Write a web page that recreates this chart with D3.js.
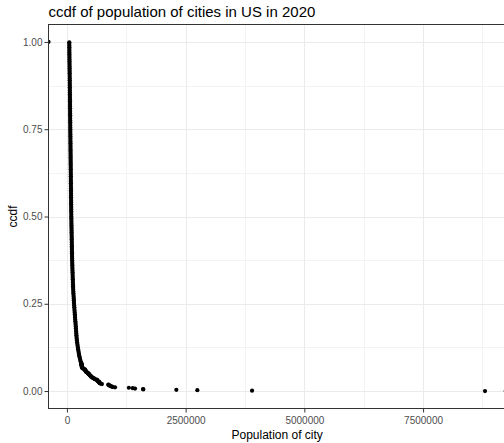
<!DOCTYPE html>
<html>
<head>
<meta charset="utf-8">
<script src="https://cdn.jsdelivr.net/npm/d3@7"></script>
<style>
  body { margin: 0; background: #ffffff; }
  svg { display: block; }
  text { font-family: "Liberation Sans", Arial, sans-serif; }
</style>
</head>
<body>
<svg id="chart" width="504" height="443"></svg>
<script>
// Largest cities (descending population) and their ccdf values
const topCityPopulation = [
  8804190, 3898747, 2746388, 2304580, 1608139, 1603797, 1434625, 1386932, 1304379, 1013240,
  961855, 949611, 918915, 905748, 887642, 874579, 873965, 737015, 715522, 689545,
  689447, 681054, 678815, 675647, 652503, 641903, 639111, 633104, 624444, 585708,
  577222, 564559, 542629, 542107, 524943, 508090, 504258, 498715, 486051, 478961,
  467665, 466742, 459470, 442241, 440646, 429954, 413066, 403455, 397532, 394266,
  386261, 384959, 383997, 372624, 350964, 346824, 322570, 320804, 317863, 317610,
  314998, 311549, 311527, 310227, 309317, 307670, 307573, 302971, 301578, 299035
];
const topCityCcdf = [
  0.0000, 0.0012, 0.0024, 0.0035, 0.0047, 0.0059, 0.0071, 0.0082, 0.0094, 0.0106,
  0.0118, 0.0129, 0.0141, 0.0153, 0.0165, 0.0176, 0.0188, 0.0200, 0.0212, 0.0224,
  0.0235, 0.0247, 0.0259, 0.0271, 0.0282, 0.0294, 0.0306, 0.0318, 0.0329, 0.0341,
  0.0353, 0.0365, 0.0376, 0.0388, 0.0400, 0.0412, 0.0424, 0.0435, 0.0447, 0.0459,
  0.0471, 0.0482, 0.0494, 0.0506, 0.0518, 0.0529, 0.0541, 0.0553, 0.0565, 0.0576,
  0.0588, 0.0600, 0.0612, 0.0624, 0.0635, 0.0647, 0.0659, 0.0671, 0.0682, 0.0694,
  0.0706, 0.0718, 0.0729, 0.0741, 0.0753, 0.0765, 0.0776, 0.0788, 0.0800, 0.0812
];

// Remaining cities down to the smallest, with their ccdf values
const smallerCityPopulation = [
  288000, 280000, 271000, 262000, 255000, 249000, 242000, 236000, 231000, 225000,
  220000, 215000, 210000, 206000, 203000, 200000, 198000, 195000, 192000, 189000,
  186000, 184000, 181000, 178000, 175000, 172000, 170000, 167000, 164000, 161000,
  158000, 156000, 153000, 150000, 148000, 146000, 144000, 142000, 139000, 137000,
  135000, 133000, 131000, 129000, 128000, 126000, 125000, 124000, 122000, 121000,
  120000, 119000, 117000, 116000, 115000, 114000, 113000, 112000, 111000, 110000,
  109000, 108000, 107000, 106000, 105300, 104600, 103900, 103200, 102500, 101800,
  101100, 100400, 99700, 99000, 98400, 97800, 97200, 96600, 96000, 95400,
  94800, 94200, 93600, 93000, 92500, 92000, 91500, 91000, 90500, 90000,
  89500, 89000, 88500, 88000, 87600, 87100, 86700, 86200, 85800, 85300,
  84900, 84400, 84000, 83500, 83100, 82700, 82300, 81900, 81500, 81100,
  80700, 80300, 79900, 79500, 79100, 78700, 78300, 77900, 77500, 77100,
  76700, 76300, 75900, 75500, 75100, 74700, 74300, 73900, 73500, 73100,
  72700, 72300, 71900, 71500, 71100, 70700, 70300, 69900, 69500, 69100,
  68700, 68300, 67900, 67500, 67100, 66600, 66200, 65700, 65300, 64800,
  64400, 63900, 63500, 63000, 62600, 62100, 61700, 61200, 60800, 60300,
  59900, 59400, 59000, 58500, 58100, 57600, 57200, 56700, 56300, 55800,
  55400, 54900, 54500, 54000, 53600, 53200, 52800, 52400, 52000, 51600,
  51200, 50800, 50400, 50000
];
const smallerCityCcdf = [
  0.085, 0.090, 0.095, 0.100, 0.105, 0.110, 0.115, 0.120, 0.125, 0.130,
  0.135, 0.140, 0.145, 0.150, 0.155, 0.160, 0.165, 0.170, 0.175, 0.180,
  0.185, 0.190, 0.195, 0.200, 0.205, 0.210, 0.215, 0.220, 0.225, 0.230,
  0.235, 0.240, 0.245, 0.250, 0.255, 0.260, 0.265, 0.270, 0.275, 0.280,
  0.285, 0.290, 0.295, 0.300, 0.305, 0.310, 0.315, 0.320, 0.325, 0.330,
  0.335, 0.340, 0.345, 0.350, 0.355, 0.360, 0.365, 0.370, 0.375, 0.380,
  0.385, 0.390, 0.395, 0.400, 0.405, 0.410, 0.415, 0.420, 0.425, 0.430,
  0.435, 0.440, 0.445, 0.450, 0.455, 0.460, 0.465, 0.470, 0.475, 0.480,
  0.485, 0.490, 0.495, 0.500, 0.505, 0.510, 0.515, 0.520, 0.525, 0.530,
  0.535, 0.540, 0.545, 0.550, 0.555, 0.560, 0.565, 0.570, 0.575, 0.580,
  0.585, 0.590, 0.595, 0.600, 0.605, 0.610, 0.615, 0.620, 0.625, 0.630,
  0.635, 0.640, 0.645, 0.650, 0.655, 0.660, 0.665, 0.670, 0.675, 0.680,
  0.685, 0.690, 0.695, 0.700, 0.705, 0.710, 0.715, 0.720, 0.725, 0.730,
  0.735, 0.740, 0.745, 0.750, 0.755, 0.760, 0.765, 0.770, 0.775, 0.780,
  0.785, 0.790, 0.795, 0.800, 0.805, 0.810, 0.815, 0.820, 0.825, 0.830,
  0.835, 0.840, 0.845, 0.850, 0.855, 0.860, 0.865, 0.870, 0.875, 0.880,
  0.885, 0.890, 0.895, 0.900, 0.905, 0.910, 0.915, 0.920, 0.925, 0.930,
  0.935, 0.940, 0.945, 0.950, 0.955, 0.960, 0.965, 0.970, 0.975, 0.980,
  0.985, 0.990, 0.995, 0.999
];

// Padding points of the step function at -Inf and +Inf
const padSide = ["-Inf", "+Inf"];
const padCcdf = [1, 0];

// Axis ticks
const xTicks = [0, 2500000, 5000000, 7500000];
const xMinorTicks = [1250000, 3750000, 6250000, 8750000];
const yTicks = [0, 0.25, 0.5, 0.75, 1];
const yMinorTicks = [0.125, 0.375, 0.625, 0.875];

const titleText = "ccdf of population of cities in US in 2020";
const xTitle = "Population of city";
const yTitle = "ccdf";

const svg = d3.select("#chart");
const panel = { left: 48.5, right: 505.8, top: 24.5, bottom: 408.5 };

const points = topCityPopulation.map((p, i) => ({ pop: p, ccdf: topCityCcdf[i] }))
  .concat(smallerCityPopulation.map((p, i) => ({ pop: p, ccdf: smallerCityCcdf[i] })));

// Continuous scales with 5% expansion on each side
const [pMin, pMax] = d3.extent(points, d => d.pop);
const xPad = (pMax - pMin) * 0.05;
const x = d3.scaleLinear().domain([pMin - xPad, pMax + xPad]).range([panel.left, panel.right]);
const y = d3.scaleLinear().domain([-0.05, 1.05]).range([panel.bottom, panel.top]);

svg.append("rect").attr("width", 504).attr("height", 443).attr("fill", "#ffffff");

svg.append("defs").append("clipPath").attr("id", "panel-clip")
  .append("rect")
  .attr("x", panel.left).attr("y", panel.top)
  .attr("width", panel.right - panel.left).attr("height", panel.bottom - panel.top);

const grid = svg.append("g").attr("clip-path", "url(#panel-clip)");
const crisp = v => Math.round(v) + 0.5;

grid.selectAll(".xminor").data(xMinorTicks).join("line")
  .attr("x1", d => crisp(x(d))).attr("x2", d => crisp(x(d)))
  .attr("y1", panel.top).attr("y2", panel.bottom)
  .attr("stroke", "#F3F3F3").attr("stroke-width", 1);
grid.selectAll(".yminor").data(yMinorTicks).join("line")
  .attr("y1", d => crisp(y(d))).attr("y2", d => crisp(y(d)))
  .attr("x1", panel.left).attr("x2", panel.right)
  .attr("stroke", "#F3F3F3").attr("stroke-width", 1);
grid.selectAll(".xmajor").data(xTicks).join("line")
  .attr("x1", d => crisp(x(d))).attr("x2", d => crisp(x(d)))
  .attr("y1", panel.top).attr("y2", panel.bottom)
  .attr("stroke", "#EBEBEB").attr("stroke-width", 1);
grid.selectAll(".ymajor").data(yTicks).join("line")
  .attr("y1", d => crisp(y(d))).attr("y2", d => crisp(y(d)))
  .attr("x1", panel.left).attr("x2", panel.right)
  .attr("stroke", "#EBEBEB").attr("stroke-width", 1);

// Points
const marks = svg.append("g").attr("clip-path", "url(#panel-clip)");
marks.selectAll("circle.city").data(points).join("circle")
  .attr("class", "city")
  .attr("cx", d => x(d.pop))
  .attr("cy", d => y(d.ccdf))
  .attr("r", 2.1)
  .attr("fill", "#000000");
marks.selectAll("circle.pad").data(padSide.map((s, i) => ({ side: s, ccdf: padCcdf[i] }))).join("circle")
  .attr("class", "pad")
  .attr("cx", d => d.side === "-Inf" ? x.range()[0] : x.range()[1])
  .attr("cy", d => y(d.ccdf))
  .attr("r", 2.1)
  .attr("fill", "#000000");

// Panel border
svg.append("rect")
  .attr("x", panel.left).attr("y", panel.top)
  .attr("width", panel.right - panel.left).attr("height", panel.bottom - panel.top)
  .attr("fill", "none").attr("stroke", "#333333").attr("stroke-width", 1);

// Axes
const xAxis = svg.append("g").attr("transform", `translate(0,${panel.bottom})`)
  .call(d3.axisBottom(x).tickValues(xTicks).tickFormat(d3.format("d")).tickSize(4).tickPadding(4));
const yAxis = svg.append("g").attr("transform", `translate(${panel.left},0)`)
  .call(d3.axisLeft(y).tickValues(yTicks).tickFormat(d3.format(".2f")).tickSize(4).tickPadding(2));
[xAxis, yAxis].forEach(g => {
  g.select(".domain").remove();
  g.selectAll(".tick line").attr("stroke", "#333333");
  g.selectAll(".tick text").attr("fill", "#4D4D4D").attr("font-size", "10px")
    .attr("font-family", "Liberation Sans, Arial, sans-serif");
});

// Titles
svg.append("text").attr("x", panel.left).attr("y", 17)
  .attr("font-size", "15px").attr("fill", "#000000").text(titleText);
svg.append("text").attr("x", (panel.left + panel.right) / 2).attr("y", 439)
  .attr("text-anchor", "middle").attr("font-size", "12px").attr("fill", "#000000").text(xTitle);
svg.append("text")
  .attr("transform", `translate(16.5,${(panel.top + panel.bottom) / 2}) rotate(-90)`)
  .attr("text-anchor", "middle").attr("font-size", "12px").attr("fill", "#000000").text(yTitle);
</script>
</body>
</html>
